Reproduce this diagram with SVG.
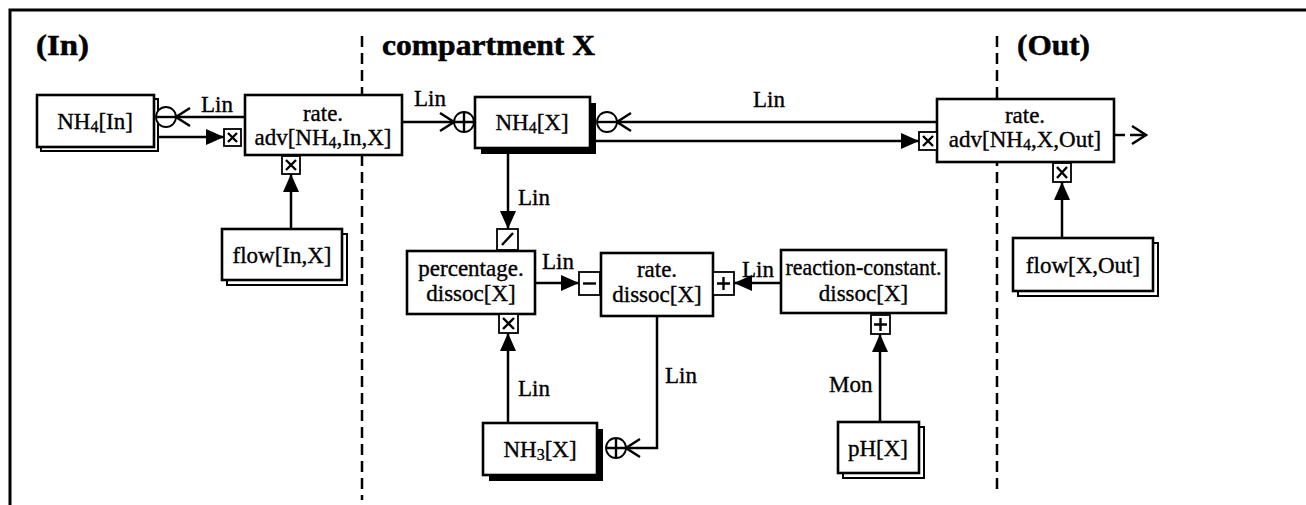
<svg xmlns="http://www.w3.org/2000/svg" width="1306" height="505" viewBox="0 0 1306 505">
<style>
text{font-family:"Liberation Serif","Times New Roman",serif;font-size:23px;fill:#000;stroke:#000;stroke-width:0.35}
.t{font-weight:bold;font-size:29px;stroke-width:0.5}
.m{text-anchor:middle}
.box{fill:#fff;stroke:#000;stroke-width:2.6}
.bk{fill:#fff;stroke:#000;stroke-width:2}
.sh{fill:#000}
.ind{fill:#fff;stroke:#000;stroke-width:1.8}
.sym{fill:none;stroke:#000;stroke-width:2.4}
.c{fill:none;stroke:#000;stroke-width:2.5}
.dash{fill:none;stroke:#000;stroke-width:2.5;stroke-dasharray:11 6}
.frame{fill:none;stroke:#000;stroke-width:3}
</style>
<defs>
<marker id="af" markerUnits="userSpaceOnUse" viewBox="0 0 18 16" markerWidth="18" markerHeight="16" refX="18" refY="8" orient="auto"><path d="M0,0 L18,8 L0,16z" fill="#000"/></marker>
<marker id="ao" markerUnits="userSpaceOnUse" viewBox="-2 -2 18 22" markerWidth="18" markerHeight="22" refX="14" refY="9" orient="auto"><path d="M0,0 L14,9 L0,18" fill="none" stroke="#000" stroke-width="2.4"/></marker>
</defs>

<g id="frame">
<path class="frame" d="M10,505V10H1306"/>
<path class="dash" d="M362,36V500"/>
<path class="dash" d="M997,36V495"/>
<text class="t" x="36" y="55" textLength="53" lengthAdjust="spacingAndGlyphs">(In)</text>
<text class="t" x="382" y="55" textLength="213" lengthAdjust="spacingAndGlyphs">compartment X</text>
<text class="t" x="1017" y="55" textLength="73" lengthAdjust="spacingAndGlyphs">(Out)</text>
</g>

<g id="connectors">
<path class="c" d="M245,117H176" marker-end="url(#ao)"/>
<path class="c" d="M158,137H224" marker-end="url(#af)"/>
<path class="c" d="M291,229V174" marker-end="url(#af)"/>
<path class="c" d="M402,122H454" marker-end="url(#ao)"/>
<path class="c" d="M937,122H617" marker-end="url(#ao)"/>
<path class="c" d="M596,141H919" marker-end="url(#af)"/>
<path class="c" d="M1114,135H1125"/>
<path class="c" d="M1130,135H1146" marker-end="url(#ao)"/>
<path class="c" d="M1062,238V182" marker-end="url(#af)"/>
<path class="c" d="M508,154V229" marker-end="url(#af)"/>
<path class="c" d="M535,283H579" marker-end="url(#af)"/>
<path class="c" d="M781,283H734" marker-end="url(#af)"/>
<path class="c" d="M508,423V333" marker-end="url(#af)"/>
<path class="c" d="M657,316V448H626" marker-end="url(#ao)"/>
<path class="c" d="M880,422V334" marker-end="url(#af)"/>
<text x="201" y="112">Lin</text>
<text x="414" y="106">Lin</text>
<text x="753" y="107">Lin</text>
<text x="518" y="205">Lin</text>
<text x="542" y="269">Lin</text>
<text x="742" y="277">Lin</text>
<text x="518" y="396">Lin</text>
<text x="665" y="383">Lin</text>
<text x="829" y="392">Mon</text>
</g>

<g id="nh4-in">
<rect class="bk" x="41" y="99" width="117" height="52"/>
<rect class="box" x="37" y="95" width="117" height="52"/>
<text class="m" x="95" y="129">NH<tspan font-size="16" dy="3">4</tspan><tspan dy="-3">[In]</tspan></text>
<circle class="ind" cx="166" cy="117" r="10" stroke-width="2.4"/>
<path class="sym" d="M156,117H176"/>
</g>

<g id="rate-adv-in">
<rect class="box" x="245" y="95" width="157" height="60"/>
<text class="m" x="323" y="121">rate.</text>
<text class="m" x="323" y="145">adv[NH<tspan font-size="16" dy="3">4</tspan><tspan dy="-3">,In,X]</tspan></text>
<rect class="ind" x="224" y="129" width="17" height="17"/>
<path class="sym" d="M228,133L237,142M237,133L228,142"/>
<rect class="ind" x="282" y="156" width="18" height="18"/>
<path class="sym" d="M286,160L296,170M296,160L286,170"/>
</g>

<g id="flow-in-x">
<rect class="bk" x="227" y="234" width="120" height="51"/>
<rect class="box" x="222" y="229" width="120" height="51"/>
<text class="m" x="282" y="263">flow[In,X]</text>
</g>

<g id="nh4-x">
<rect class="sh" x="481" y="103" width="115" height="51"/>
<rect class="box" x="475" y="97" width="115" height="51"/>
<text class="m" x="532" y="130">NH<tspan font-size="16" dy="3">4</tspan><tspan dy="-3">[X]</tspan></text>
<circle class="ind" cx="464" cy="122" r="10" stroke-width="2.4"/>
<path class="sym" d="M454,122H474M464,112V132"/>
<circle class="ind" cx="607" cy="122" r="10" stroke-width="2.4"/>
<path class="sym" d="M597,122H617"/>
</g>

<g id="rate-adv-out">
<rect class="box" x="937" y="99" width="177" height="63"/>
<text class="m" x="1025" y="123">rate.</text>
<text class="m" x="1025" y="147">adv[NH<tspan font-size="16" dy="3">4</tspan><tspan dy="-3">,X,Out]</tspan></text>
<rect class="ind" x="919" y="132" width="18" height="18"/>
<path class="sym" d="M923,136L933,146M933,136L923,146"/>
<rect class="ind" x="1053" y="163" width="18" height="19"/>
<path class="sym" d="M1057,167L1067,178M1067,167L1057,178"/>
</g>

<g id="flow-x-out">
<rect class="bk" x="1018" y="243" width="140" height="53"/>
<rect class="box" x="1013" y="238" width="140" height="53"/>
<text class="m" x="1083" y="273">flow[X,Out]</text>
</g>

<g id="percentage-dissoc">
<rect class="ind" x="497" y="229" width="21" height="21"/>
<path class="sym" d="M502,245L513,233"/>
<rect class="box" x="407" y="251" width="128" height="63"/>
<text class="m" x="471" y="276">percentage.</text>
<text class="m" x="471" y="301">dissoc[X]</text>
<rect class="ind" x="499" y="314" width="19" height="19"/>
<path class="sym" d="M503,318L514,329M514,318L503,329"/>
</g>

<g id="rate-dissoc">
<rect class="ind" x="579" y="272" width="21" height="23"/>
<path class="sym" d="M583,283.5H596"/>
<rect class="box" x="601" y="253" width="112" height="63"/>
<text class="m" x="657" y="277">rate.</text>
<text class="m" x="657" y="302">dissoc[X]</text>
<rect class="ind" x="713" y="272" width="21" height="23"/>
<path class="sym" d="M717,283.5H730M723.5,277V290"/>
</g>

<g id="reaction-constant">
<rect class="box" x="781" y="250" width="165" height="63"/>
<text class="m" x="863.5" y="275" textLength="156" lengthAdjust="spacingAndGlyphs">reaction-constant.</text>
<text class="m" x="863.5" y="301">dissoc[X]</text>
<rect class="ind" x="871" y="315" width="19" height="19"/>
<path class="sym" d="M874,324.5H887M880.5,318V331"/>
</g>

<g id="ph-x">
<rect class="bk" x="843" y="427" width="81" height="51"/>
<rect class="box" x="838" y="422" width="81" height="51"/>
<text class="m" x="878" y="456">pH[X]</text>
</g>

<g id="nh3-x">
<rect class="sh" x="489" y="429" width="114" height="52"/>
<rect class="box" x="483" y="423" width="114" height="52"/>
<text class="m" x="540" y="457">NH<tspan font-size="16" dy="3">3</tspan><tspan dy="-3">[X]</tspan></text>
<circle class="ind" cx="616" cy="448" r="10" stroke-width="2.4"/>
<path class="sym" d="M606,448H626M616,438V458"/>
</g>
</svg>
